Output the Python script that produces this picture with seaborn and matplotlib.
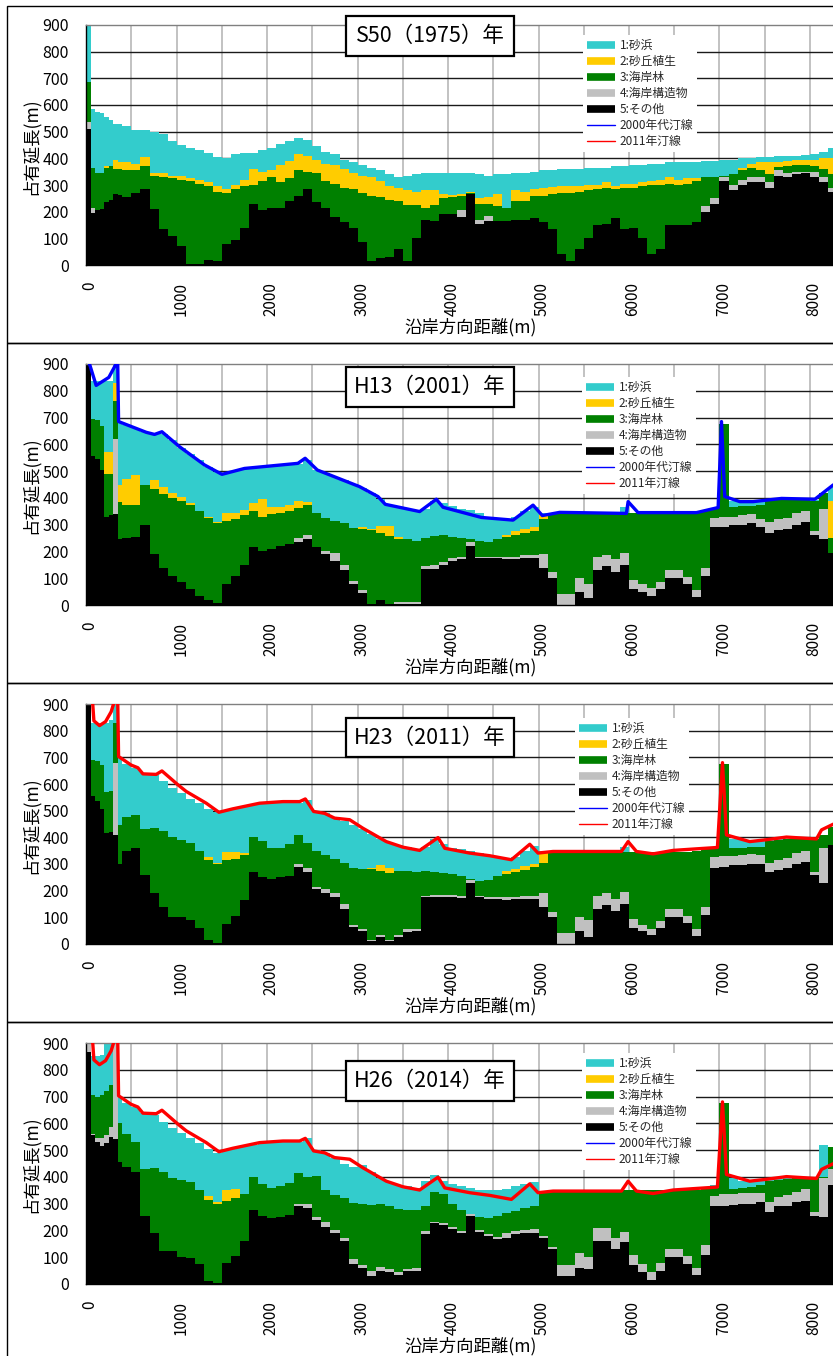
import numpy as np
import pandas as pd
import matplotlib
matplotlib.use("Agg")
import matplotlib.pyplot as plt
import matplotlib.transforms as mtransforms
from matplotlib.lines import Line2D
from matplotlib.patches import Rectangle
import seaborn as sns

# ---------------- data ----------------
# left edges of the alongshore bins (m); last bin ends at DIST_END
DIST = [0, 50, 100, 150, 200, 250, 300, 350,
        400, 500, 600, 700, 800, 900, 1000, 1100, 1200, 1300, 1400, 1500, 1600, 1700, 1800, 1900,
        2000, 2100, 2200, 2300, 2400, 2500, 2600, 2700, 2800, 2900, 3000, 3100, 3200, 3300, 3400,
        3500, 3600, 3700, 3800, 3900, 4000, 4100, 4200, 4300, 4400, 4500, 4600, 4700, 4800, 4900,
        5000, 5100, 5200, 5300, 5400, 5500, 5600, 5700, 5800, 5900, 6000, 6100, 6200, 6300, 6400,
        6500, 6600, 6700, 6800, 6900, 7000, 7100, 7200, 7300, 7400, 7500, 7600, 7700, 7800, 7900,
        8000, 8100, 8200]
DIST_END = 8300

LAYERS = ['1:砂浜', '2:砂丘植生', '3:海岸林', '4:海岸構造物', '5:その他']
SHORE_LABELS = ['2000年代汀線', '2011年汀線']
TITLES = ['S50（1975）年', 'H13（2001）年', 'H23（2011）年', 'H26（2014）年']
XTICKS = [0, 1000, 2000, 3000, 4000, 5000, 6000, 7000, 8000]
YTICKS = [0, 100, 200, 300, 400, 500, 600, 700, 800, 900]

# cumulative tops (m) of each layer: その他 / +海岸構造物 / +海岸林 / +砂丘植生 / +砂浜
S50_black = [510, 195, 205, 210, 235, 245, 265, 262,
             255, 270, 285, 210, 135, 110, 70, 5, 5, 20, 15, 80, 95, 140, 230, 205, 215, 215, 240, 258, 285, 235, 215, 180, 160, 140, 85, 15, 25, 30, 60, 15, 100,
             170, 165, 190, 190, 180, 265, 155, 165, 165, 165, 170, 170, 175, 160, 135, 40, 15, 60, 100, 150, 155, 175, 135, 140, 100, 40, 60, 150, 150, 150, 160, 200, 230, 315, 280, 300, 312, 310, 290, 335, 330, 340, 345, 330, 310, 275]
S50_gray = [535, 215, 205, 210, 235, 245, 265, 262,
            255, 270, 285, 210, 135, 110, 70, 5, 5, 20, 15, 80, 95, 140, 230, 205, 215, 215, 240, 258, 285, 235, 215, 180, 160, 140, 85, 15, 25, 30, 60, 15, 100,
            170, 165, 190, 190, 205, 265, 170, 185, 165, 165, 170, 170, 175, 160, 135, 40, 15, 60, 100, 150, 155, 175, 135, 140, 100, 40, 60, 150, 150, 150, 160, 220, 250, 330, 300, 320, 330, 330, 310, 355, 345, 350, 350, 350, 330, 290]
S50_green = [685, 365, 345, 345, 365, 370, 360, 360,
             358, 355, 370, 335, 330, 325, 320, 315, 305, 295, 275, 270, 285, 295, 300, 315, 330, 310, 325, 355, 350, 345, 315, 305, 290, 285, 270, 260, 255, 245, 240, 225, 225,
             215, 225, 250, 255, 260, 270, 230, 230, 220, 215, 240, 240, 260, 260, 265, 270, 270, 275, 280, 285, 290, 285, 290, 290, 295, 300, 300, 305, 300, 305, 315, 330, 330, 335, 340, 355, 365, 355, 340, 368, 370, 375, 375, 370, 360, 340]
S50_yellow = [685, 365, 345, 345, 370, 370, 395, 385,
              385, 380, 405, 345, 345, 335, 335, 325, 320, 310, 295, 285, 300, 320, 360, 350, 355, 375, 390, 415, 410, 395, 380, 375, 360, 345, 335, 330, 315, 295, 290, 280, 275,
              280, 280, 265, 262, 265, 272, 250, 255, 265, 215, 280, 275, 285, 290, 292, 295, 295, 298, 300, 300, 310, 295, 305, 305, 310, 315, 320, 330, 320, 325, 325, 330, 330, 335, 340, 365, 380, 385, 385, 388, 390, 395, 395, 395, 400, 400]
S50_cyan = [900, 585, 575, 570, 555, 545, 530, 530,
            520, 505, 505, 500, 490, 465, 450, 440, 430, 420, 405, 400, 415, 420, 420, 430, 440, 455, 465, 475, 470, 445, 425, 415, 395, 385, 375, 365, 355, 340, 330, 335, 340,
            345, 345, 345, 345, 345, 345, 340, 335, 340, 340, 345, 345, 350, 355, 355, 360, 360, 360, 365, 365, 365, 370, 372, 375, 375, 380, 380, 385, 385, 385, 385, 390, 390, 395, 395, 400, 400, 405, 405, 408, 410, 410, 412, 415, 425, 440]

H13_black = [900, 555, 545, 505, 330, 335, 340, 245,
             250, 255, 300, 190, 140, 110, 85, 60, 35, 18, 8, 80, 110, 150, 215, 200, 210, 222, 228, 235, 245, 215, 190, 165, 130, 80, 45, 2, 20, 5, 5, 5, 5,
             135, 135, 150, 165, 170, 220, 175, 175, 175, 170, 170, 175, 175, 140, 100, 0, 0, 50, 25, 130, 145, 125, 150, 60, 50, 35, 60, 100, 100, 80, 30, 110, 290, 290, 300, 300, 305, 290, 270, 280, 285, 300, 310, 260, 245, 195]
H13_gray = [900, 555, 545, 505, 330, 335, 620, 245,
            250, 255, 300, 190, 140, 110, 85, 60, 35, 18, 8, 80, 110, 150, 215, 200, 210, 222, 228, 250, 260, 215, 200, 195, 150, 90, 55, 2, 20, 5, 12, 12, 12,
            145, 148, 160, 175, 180, 235, 180, 180, 180, 180, 180, 185, 185, 190, 125, 40, 40, 100, 80, 180, 185, 170, 195, 95, 80, 65, 85, 130, 130, 105, 55, 138, 325, 330, 330, 335, 340, 320, 310, 320, 325, 345, 350, 275, 360, 195]
H13_green = [900, 695, 690, 670, 490, 490, 760, 385,
             375, 375, 450, 435, 415, 400, 390, 372, 350, 325, 305, 312, 320, 335, 350, 330, 340, 345, 352, 362, 372, 345, 325, 315, 305, 288, 282, 280, 270, 258, 248, 245, 238,
             250, 258, 260, 255, 252, 245, 240, 235, 245, 255, 262, 268, 275, 320, 345, 345, 345, 345, 345, 345, 345, 345, 345, 345, 345, 345, 345, 345, 345, 345, 345, 352, 358, 675, 365, 368, 370, 375, 390, 393, 395, 395, 393, 390, 420, 250]
H13_yellow = [900, 695, 690, 670, 570, 570, 830, 450,
              470, 485, 450, 465, 440, 420, 402, 380, 350, 328, 310, 345, 345, 355, 380, 395, 365, 365, 372, 388, 385, 345, 325, 315, 305, 288, 290, 285, 295, 295, 255, 245, 238,
              250, 258, 260, 255, 252, 245, 240, 235, 245, 260, 275, 285, 290, 340, 345, 345, 345, 345, 345, 345, 345, 345, 345, 345, 345, 345, 345, 345, 345, 345, 345, 352, 358, 675, 365, 368, 370, 375, 390, 393, 395, 395, 393, 390, 420, 390]
H13_cyan = [900, 835, 835, 835, 835, 835, 900, 685,
            672, 660, 645, 638, 640, 615, 588, 565, 540, 515, 495, 492, 500, 508, 512, 515, 518, 521, 524, 528, 540, 505, 492, 478, 465, 452, 437, 418, 395, 372, 365, 360, 352,
            360, 390, 380, 370, 360, 355, 345, 330, 325, 322, 330, 350, 365, 345, 345, 345, 345, 345, 345, 345, 345, 345, 365, 345, 345, 345, 345, 345, 345, 345, 348, 355, 362, 675, 390, 385, 388, 390, 395, 395, 396, 396, 395, 393, 420, 440]

H23_black = [900, 555, 535, 505, 415, 420, 410, 300,
             350, 360, 260, 190, 140, 102, 100, 90, 60, 15, 5, 75, 105, 165, 270, 252, 245, 250, 255, 290, 270, 205, 190, 178, 130, 62, 48, 10, 25, 10, 25, 45, 50,
             175, 178, 178, 175, 172, 230, 175, 170, 168, 165, 168, 170, 170, 140, 100, 0, 0, 50, 25, 130, 145, 125, 150, 60, 50, 35, 60, 100, 100, 80, 30, 110, 285, 290, 295, 298, 300, 300, 270, 278, 285, 300, 308, 260, 230, 370]
H23_gray = [900, 555, 535, 505, 415, 420, 680, 300,
            350, 360, 260, 190, 140, 102, 100, 90, 60, 15, 5, 75, 105, 165, 270, 252, 245, 250, 255, 300, 285, 215, 205, 192, 150, 70, 58, 15, 35, 15, 35, 55, 55,
            180, 185, 185, 182, 180, 240, 180, 178, 178, 175, 178, 180, 180, 190, 120, 40, 40, 100, 90, 180, 190, 170, 195, 95, 70, 55, 85, 130, 130, 105, 55, 140, 325, 330, 330, 335, 338, 335, 305, 315, 322, 340, 350, 270, 360, 370]
H23_green = [900, 690, 685, 670, 570, 575, 830, 445,
             475, 485, 430, 435, 425, 400, 390, 378, 350, 315, 300, 315, 320, 335, 400, 385, 360, 360, 375, 410, 380, 350, 335, 320, 305, 285, 280, 280, 275, 265, 275, 275, 270,
             275, 270, 265, 262, 255, 245, 235, 240, 255, 262, 270, 278, 288, 305, 345, 345, 345, 345, 345, 345, 345, 345, 345, 345, 345, 345, 345, 345, 345, 345, 348, 355, 360, 675, 360, 360, 362, 365, 385, 390, 393, 395, 395, 395, 410, 440]
H23_yellow = [900, 690, 685, 670, 570, 575, 830, 445,
              475, 485, 430, 435, 425, 400, 390, 378, 350, 328, 305, 345, 345, 340, 400, 385, 360, 360, 375, 410, 380, 350, 335, 320, 305, 285, 280, 285, 295, 285, 275, 275, 270,
              275, 270, 265, 262, 255, 245, 235, 240, 255, 272, 282, 292, 300, 340, 345, 345, 345, 345, 345, 345, 345, 345, 345, 345, 345, 345, 345, 345, 345, 345, 348, 355, 360, 675, 360, 360, 362, 365, 385, 390, 393, 395, 395, 395, 410, 440]
H23_cyan = [900, 830, 830, 830, 830, 840, 900, 700,
            675, 660, 640, 635, 610, 585, 565, 545, 528, 508, 495, 500, 507, 515, 520, 525, 528, 530, 530, 530, 540, 495, 490, 472, 460, 445, 430, 412, 395, 380, 370, 365, 355,
            365, 395, 375, 360, 355, 350, 340, 332, 325, 318, 325, 350, 368, 350, 345, 345, 345, 345, 345, 345, 345, 345, 365, 345, 345, 345, 345, 345, 345, 345, 348, 355, 365, 675, 395, 395, 388, 390, 390, 392, 395, 397, 397, 395, 410, 440]

H26_black = [865, 555, 530, 515, 525, 550, 540, 455,
             437, 420, 255, 190, 122, 125, 102, 97, 75, 12, 5, 80, 105, 160, 275, 255, 248, 250, 258, 290, 285, 238, 212, 190, 160, 75, 58, 30, 50, 45, 32, 47, 50,
             187, 228, 220, 205, 192, 255, 195, 180, 168, 170, 185, 190, 192, 170, 130, 30, 30, 60, 55, 160, 160, 130, 155, 70, 45, 15, 50, 100, 100, 75, 35, 110, 290, 290, 295, 298, 300, 305, 270, 290, 290, 305, 310, 255, 250, 370]
H26_gray = [900, 560, 545, 545, 555, 585, 900, 455,
            437, 420, 255, 190, 122, 125, 102, 97, 75, 12, 5, 80, 105, 160, 275, 255, 248, 250, 258, 300, 300, 250, 230, 202, 172, 92, 70, 50, 62, 55, 45, 57, 60,
            197, 233, 226, 212, 198, 260, 200, 186, 174, 190, 198, 203, 205, 178, 140, 70, 70, 115, 100, 210, 210, 170, 195, 110, 75, 45, 80, 130, 130, 105, 60, 145, 330, 335, 335, 338, 340, 340, 305, 325, 333, 345, 355, 270, 395, 430]
H26_green = [900, 705, 700, 705, 720, 745, 900, 600,
             560, 530, 430, 435, 420, 395, 390, 380, 350, 315, 300, 310, 320, 335, 400, 375, 360, 365, 378, 415, 400, 405, 350, 332, 320, 302, 300, 295, 297, 290, 280, 275, 275,
             290, 345, 335, 300, 275, 262, 250, 248, 255, 265, 272, 282, 290, 345, 345, 348, 350, 350, 350, 350, 350, 350, 350, 350, 350, 350, 350, 350, 350, 350, 352, 358, 360, 675, 355, 358, 362, 368, 385, 390, 393, 395, 395, 395, 400, 510]
H26_yellow = [900, 705, 700, 705, 720, 745, 900, 600,
              560, 530, 430, 435, 420, 395, 390, 380, 350, 330, 305, 350, 355, 335, 400, 375, 360, 365, 378, 415, 400, 405, 350, 332, 320, 302, 300, 295, 297, 290, 280, 275, 275,
              290, 345, 335, 300, 275, 262, 250, 248, 255, 265, 272, 282, 290, 345, 345, 348, 350, 350, 350, 350, 350, 350, 350, 350, 350, 350, 350, 350, 350, 350, 352, 358, 360, 675, 355, 358, 362, 368, 385, 390, 393, 395, 395, 395, 400, 510]
H26_cyan = [900, 850, 850, 855, 900, 900, 900, 700,
            675, 660, 640, 632, 605, 582, 565, 545, 525, 505, 490, 500, 510, 515, 520, 525, 525, 530, 530, 530, 545, 500, 490, 470, 450, 437, 445, 420, 395, 380, 370, 365, 360,
            385, 408, 385, 375, 365, 360, 350, 350, 352, 355, 365, 372, 380, 345, 345, 348, 350, 350, 350, 350, 350, 350, 350, 350, 350, 350, 350, 350, 350, 350, 352, 358, 370, 675, 395, 385, 382, 385, 388, 392, 395, 397, 397, 395, 520, 510]

# shorelines (polyline vertices, m)
SHORE2000_X = [0, 110, 250, 330, 345, 358, 663, 755, 837, 1032, 1308, 1500, 1750, 2340, 2420, 2555, 3022, 3225, 3306, 3686,
               3870, 3944, 4368, 4718, 4939, 5042, 5234, 5971, 5990, 6100, 6745, 6985, 7022, 7058, 7225, 7372, 7686, 8054, 8256, 8400]
SHORE2000_Y = [940, 820, 850, 900, 980, 685, 645, 637, 647, 591, 523, 488, 510, 529, 548, 504, 442, 405, 376, 349,
               395, 365, 327, 317, 373, 334, 346, 342, 386, 345, 345, 364, 685, 405, 386, 386, 398, 395, 448, 470]
SHORE2011_X = [60, 85, 147, 214, 276, 302, 345, 358, 497, 571, 627, 774, 837, 1014, 1106, 1327, 1467, 1622, 1917, 2175,
               2359, 2422, 2514, 2635, 2746, 2912, 3059, 3317, 3502, 3686, 3889, 3963, 4238, 4460, 4700, 4903, 4994, 5160,
               5916, 5990, 6082, 6266, 6487, 6708, 6977, 7033, 7077, 7334, 7519, 7740, 8072, 8128, 8256, 8400]
SHORE2011_Y = [960, 837, 819, 834, 871, 900, 990, 703, 671, 661, 638, 636, 649, 597, 572, 528, 494, 507, 528, 534,
               534, 544, 497, 490, 472, 466, 434, 384, 363, 351, 399, 359, 341, 331, 316, 374, 341, 347,
               347, 384, 347, 338, 351, 356, 362, 680, 409, 384, 391, 401, 394, 428, 449, 465]

# ---------------- style ----------------
sns.set_theme(style="white")
plt.rcParams['font.family'] = ['Noto Sans CJK JP', 'DejaVu Sans']
plt.rcParams['axes.unicode_minus'] = False

COLORS = {'1:砂浜': '#33CCCC', '2:砂丘植生': '#FFCC00', '3:海岸林': '#008000',
          '4:海岸構造物': '#C0C0C0', '5:その他': '#000000'}
BLUE, RED = '#0000FF', '#FF0000'

W, H = 833, 1356
fig = plt.figure(figsize=(W / 100, H / 100), dpi=100, facecolor='white')


def fx(px):
    return px / W


def fy(py):
    return 1 - py / H


edges = [float(v) for v in DIST] + [float(DIST_END)]
mids = (np.array(edges[:-1]) + np.array(edges[1:])) / 2


def layer_frame(tops):
    names = LAYERS[::-1]  # bottom -> top
    prev = np.zeros(len(DIST))
    parts = []
    for name, top in zip(names, tops):
        top = np.maximum(np.asarray(top, float), prev)
        parts.append(pd.DataFrame({'距離': mids, '区分': name, '延長': top - prev}))
        prev = top
    return pd.concat(parts, ignore_index=True)


panels = [
    dict(title=TITLES[0], tops=[S50_black, S50_gray, S50_green, S50_yellow, S50_cyan], shore=None,
         ax_tb=(25, 265), frame=(6, 343), tbox=(16, 56), leg=(583, 35)),
    dict(title=TITLES[1], tops=[H13_black, H13_gray, H13_green, H13_yellow, H13_cyan],
         shore=(SHORE2000_X, SHORE2000_Y, BLUE), ax_tb=(364, 605), frame=(343, 683), tbox=(367, 407), leg=(582, 377)),
    dict(title=TITLES[2], tops=[H23_black, H23_gray, H23_green, H23_yellow, H23_cyan],
         shore=(SHORE2011_X, SHORE2011_Y, RED), ax_tb=(704, 944), frame=(683, 1022), tbox=(718, 757), leg=(575, 718)),
    dict(title=TITLES[3], tops=[H26_black, H26_gray, H26_green, H26_yellow, H26_cyan],
         shore=(SHORE2011_X, SHORE2011_Y, RED), ax_tb=(1043, 1284), frame=(1022, 1362), tbox=(1061, 1101), leg=(582, 1053)),
]

X_LEFT_PX = 86.2
XMAX = 8400
PX_PER_M = 90.47 / 1000
X_RIGHT_PX = X_LEFT_PX + XMAX * PX_PER_M

for p in panels:
    t, b = p['ax_tb']
    ax = fig.add_axes([fx(X_LEFT_PX), fy(b), (X_RIGHT_PX - X_LEFT_PX) / W, (b - t) / H])
    ax.set_facecolor('white')

    df = layer_frame(p['tops'])
    sns.histplot(data=df, x='距離', weights='延長', hue='区分', hue_order=LAYERS, palette=COLORS,
                 bins=edges, multiple='stack', element='step', fill=True, alpha=1,
                 linewidth=0, antialiased=False, legend=False, ax=ax)

    if p['shore'] is not None:
        sx, sy, sc = p['shore']
        sns.lineplot(x=sx, y=sy, sort=False, estimator=None, color=sc, linewidth=2.4,
                     ax=ax, legend=False, zorder=3)

    for v in YTICKS[1:-1]:
        ax.axhline(v, color='#1a1a1a', lw=1.0, zorder=0.6)
    for v in range(500, XMAX, 500):
        ax.axvline(v, color='#BDBDBD', lw=1.3, zorder=0.5)

    ax.set_xlim(0, XMAX)
    ax.set_ylim(0, 900)
    ax.set_xticks(XTICKS)
    ax.set_xticklabels([str(v) for v in XTICKS], rotation=90, fontsize=11)
    ax.set_yticks(YTICKS)
    ax.set_yticklabels([str(v) for v in YTICKS], fontsize=11.5)
    ax.tick_params(axis='both', length=0, colors='black')
    ax.tick_params(axis='x', pad=12)
    ax.tick_params(axis='y', pad=12.5)
    ax.set_xlabel('')
    ax.set_ylabel('')
    offset = mtransforms.ScaledTranslation(4 / 100, 0, fig.dpi_scale_trans)
    for lab in ax.get_xticklabels():
        lab.set_transform(lab.get_transform() + offset)

    for s in ['left', 'bottom']:
        ax.spines[s].set_color('black')
        ax.spines[s].set_linewidth(1.0)
    ax.spines['top'].set_color('#808080')
    ax.spines['top'].set_linewidth(1.0)
    ax.spines['right'].set_visible(False)

    handles = [Line2D([0], [0], color=COLORS[n], lw=5.5, solid_capstyle='butt') for n in LAYERS]
    handles += [Line2D([0], [0], color=BLUE, lw=1.0), Line2D([0], [0], color=RED, lw=1.0)]
    lx, ly = p['leg']
    leg = ax.legend(handles, LAYERS + SHORE_LABELS, loc='upper left',
                    bbox_to_anchor=(fx(lx), fy(ly)), bbox_transform=fig.transFigure,
                    fontsize=8.5, frameon=True, fancybox=False, framealpha=1,
                    facecolor='white', edgecolor='white', handlelength=2.4,
                    handletextpad=0.35, labelspacing=0.25, borderpad=0.35, borderaxespad=0)
    leg.get_frame().set_linewidth(0)
    leg.set_zorder(5)

    # axis titles
    fig.text(fx(30), fy((t + b) / 2 + 1), '占有延長(m)', rotation=90, ha='center', va='center',
             fontsize=12.5, color='black')
    fig.text(fx(471), fy(b + 62), '沿岸方向距離(m)', ha='center', va='center',
             fontsize=12.5, color='black')

    # year box
    bt, bb = p['tbox']
    fig.add_artist(Rectangle((fx(346), fy(bb)), (514 - 346) / W, (bb - bt) / H,
                             transform=fig.transFigure, facecolor='white', edgecolor='black',
                             lw=1.6, zorder=11))
    fig.text(fx(430), fy((bt + bb) / 2), p['title'], ha='center', va='center',
             fontsize=15.5, color='black', zorder=12,
             family=['Liberation Sans Narrow', 'Noto Sans CJK JP', 'DejaVu Sans'])

    # panel frame
    ft, fb = p['frame']
    fig.add_artist(Rectangle((fx(7), fy(fb)), (900 - 7) / W, (fb - ft) / H,
                             transform=fig.transFigure, fill=False, edgecolor='black',
                             lw=1.0, zorder=10))

fig.savefig('out.png', dpi=100, facecolor='white')
